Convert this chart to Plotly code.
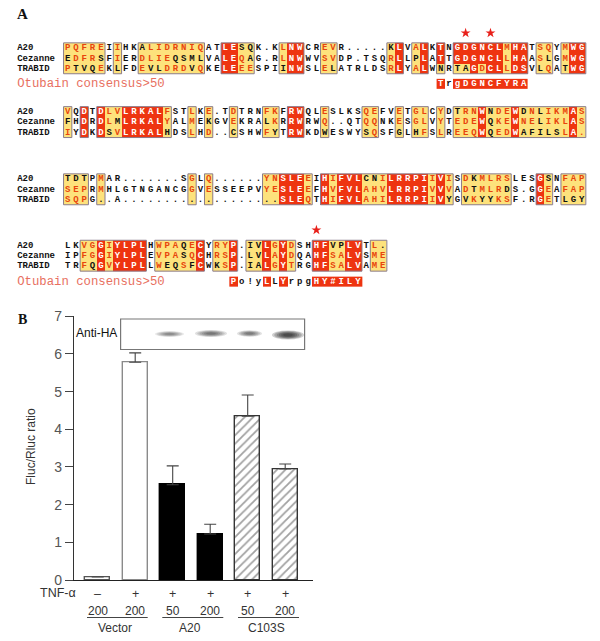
import plotly.graph_objects as go

W, H = 600, 641

# ---------- Panel A: alignment ----------
names = ["A20", "Cezanne", "TRABID"]

block1_seq = ["PQFREIIHKALIDRNIQATLESQK.KLNWCREVR.....KLVALKTNGDGNCLMHATSQYMWG",
              "EDFRSFIERDLIEQSMLVALEQAG.RLNWWVSVDP.TSQRLLPLATTGDGNCLLHAASLGMWG",
              "PTVQEKLFDEVLDRDVQKELEEESPIINWSLELATRLDSRLYALWNRTAGDCLLDSVLQATWG"]
block1_cls = ["yyyyy-y--kyyyyyyy--RRkk---yRR--yy------kR-yR-R-RRRRRRyRR-yy-yRR",
              "kyyyk-y--yyyykkkk--RRyk---yRR--yy------yR-kR-R-RRRRRRyRR-yk-yRR",
              "ykkky-k--ykkyyyky--RRyy---kRR--yk------yR-yR-k-kkRyRRyRR-ky-kRR"]

block2_seq = ["VQDTDLVLRKALFSTLKE.TDTRNFKFRWQLESLKSQEFVETGLCYDTRNWNDEWDNLIKMAS",
              "FHDRDLMLRKALYALMEKGVEKRALKRRWRWQ..QTQQNKESGLVYTEDEWQKEWNELIKLAS",
              "IYDKDSVLRKALHDSLHD..CSHWFYTRWKDWESWYSQSFGLHFSLREEQWQEDWAFILSLA."]
block2_cls = ["y-R-RyyRRRRRy--y-y--y---yy-RR--y----yy--y-yy-y-kyyRkyyRkykyyyRy",
              "k-R-RykRRRRRy--y-k--y---ky-RR--y----yy--y-yy-y-yyyRkyyRyykyyyRy",
              "y-R-RkyRRRRRk--y-y--k---yk-RR--k----ky--k-ky-y-yyyRkyyRkkkkkyRy"]

block3_seq = ["TDTPMAR.......SGLQ......YNSLEEIHIFVLCNILRRPIIVISDKMLRSLESGSNFAP",
              "SEPRMHLGTNGANCGGVESSEEPVYESLEEFHVFVLAHVLRRPIVVVADTMLRDS.GGEAFAP",
              "SQPG..A...................SLEQTHIFVLAHILRRPIIVYGVKYYKSF.RGETLGY"]
block3_cls = ["kkk-y----------y-y------yyRRRy-RyRRRkkyRRRRRyRy-ykyyyy---Rk-yyy",
              "yyy-y----------y-y------yyRRRy-RyRRRyyyRRRRRyRy-ykyyyk---Ry-yyy",
              "yyy-k----------k-k------kkRRRy-RyRRRyyyRRRRRyRk-kykkyy---Ry-kkk"]

block4_seq = ["LKVGGIYLPLHWPAQECYRYP.IVLGYDSHHFVPLVTL.",
              "IPFGGIYLPLEVPASQCHRSP.LVLAYDQAHFSALVSME",
              "TRFQGVYLPLLWEQSFCWKSP.IALGYTRGHFSALVAME"]
block4_cls = ["--yyRyRRRR-yyykyR-yyR-kkRyRy--RRkkRR-yk",
              "--yyRyRRRR-yyykyR-yyR-kkRyRy--RRyyRR-yy",
              "--ykRyRRRR-ykkykR-kyR-kkRyRy--RRyyRR-yy"]

consensus_label = "Otubain consensus>50"
consensus1_seq, consensus1_cls, consensus1_col = "TrgDGNCFYRA", "R-RRRRRRRRR", 45
consensus4_seq, consensus4_cls, consensus4_col = "Po!yLLYrpgHY#ILY", "R---R-R---RRRRRR", 20
star_cols_block1 = [48, 51]
star_cols_block4 = [30]

# ---------- Panel B: bars ----------
tnf_labels = ["–", "+", "+", "+", "+", "+"]
dose_labels = ["200", "200", "50", "200", "50", "200"]
group_labels = ["Vector", "A20", "C103S"]
ratio_values = [0.08, 5.78, 2.53, 1.22, 4.35, 2.95]
ratio_errors = [0, 0.25, 0.5, 0.26, 0.56, 0.13]
blot_band_strength = [0.30, 0.50, 0.45, 1.0]

RED, YEL = "#EE3410", "#FDE27C"
RTXT, BLK = "#E8440C", "#111111"
FRAME = "#8A7C8C"

COL0, COLW = 67.7, 8.29
ROW0, ROWH = 48.0, 10.3


def rpos(py):
    return (py - ROW0) / ROWH


blocks = [(block1_seq, block1_cls, rpos(48)),
          (block2_seq, block2_cls, rpos(111.8)),
          (block3_seq, block3_cls, rpos(179)),
          (block4_seq, block4_cls, rpos(245.4))]

fig = go.Figure()

# bars
bar_x = list(range(len(ratio_values)))
fig.add_trace(go.Bar(
    x=bar_x, y=ratio_values, width=0.667, xaxis="x", yaxis="y", hoverinfo="skip",
    marker=dict(color=["white", "white", "black", "black", "white", "white"],
                line=dict(color=["#555555", "#8A8A8A", "#000000", "#000000", "#333333", "#333333"], width=1.4),
                pattern=dict(shape=["", "", "", "", "/", "/"], fgcolor="#000000", bgcolor="white",
                             size=6, solidity=0.3)),
    error_y=dict(type="data", symmetric=False, array=ratio_errors, arrayminus=[0] * 6,
                 color="#444444", thickness=1.1, width=6, visible=True),
))

CS = [[0, YEL], [0.5, YEL], [0.5, RED], [1, RED]]


def colour(c):
    return {"R": "white", "y": RTXT}.get(c, BLK)


def add_rows(seqs, clss, rows, start_col=0):
    n = len(seqs[0])
    xs = [start_col + i for i in range(n)]
    z = [[{"R": 1, "y": 0, "k": 0}.get(c) for c in cl] for cl in clss]
    fig.add_trace(go.Heatmap(x=xs, y=rows, z=z, colorscale=CS, zmin=0, zmax=1, showscale=False,
                             xaxis="x2", yaxis="y2", hoverinfo="skip", xgap=0, ygap=0))
    for s, cl, r in zip(seqs, clss, rows):
        fig.add_trace(go.Scatter(x=xs, y=[r] * n, text=list(s), mode="text", xaxis="x2", yaxis="y2",
                                 textposition="middle center", hoverinfo="skip", cliponaxis=False,
                                 textfont=dict(family="Liberation Mono", size=9, weight="bold",
                                               color=[colour(c) for c in cl])))


shapes = []
for seqs, clss, r0 in blocks:
    rows = [r0, r0 + 1, r0 + 2]
    add_rows(seqs, clss, rows)
    fig.add_trace(go.Scatter(x=[-6.1] * 3, y=rows, text=names, mode="text", xaxis="x2", yaxis="y2",
                             textposition="middle right", hoverinfo="skip", cliponaxis=False,
                             textfont=dict(family="Liberation Mono", size=9, weight="bold", color="#111111")))
    n = len(seqs[0])
    active = [any(cl[i] != "-" for cl in clss) for i in range(n)]
    i = 0
    while i < n:
        if active[i]:
            j = i
            while j + 1 < n and active[j + 1]:
                j += 1
            shapes.append(dict(type="rect", xref="x2", yref="y2", x0=i - 0.5, x1=j + 0.5,
                               y0=r0 - 0.5, y1=r0 + 2.5, line=dict(color=FRAME, width=1), layer="above"))
            i = j + 1
        else:
            i += 1

cons_rows = [rpos(84), rpos(281.8)]
add_rows([consensus1_seq], [consensus1_cls], [cons_rows[0]], consensus1_col)
add_rows([consensus4_seq], [consensus4_cls], [cons_rows[1]], consensus4_col)
fig.add_trace(go.Scatter(x=[-6.1] * 2, y=cons_rows, text=[consensus_label] * 2, mode="text", xaxis="x2", yaxis="y2",
                         textposition="middle right", hoverinfo="skip", cliponaxis=False,
                         textfont=dict(family="Liberation Mono", size=12.3, color="#E8705F")))

# stars
fig.add_trace(go.Scatter(
    x=star_cols_block1 + star_cols_block4,
    y=[rpos(33)] * len(star_cols_block1) + [rpos(230)] * len(star_cols_block4),
    mode="markers", xaxis="x2", yaxis="y2", hoverinfo="skip",
    marker=dict(symbol="star", size=7.5, color="#E8201A", line=dict(width=0))))


def ax(px):
    return px / W


def ay(py):
    return 1 - py / H


annotations = []


def note(text, px, py, size, color="#222222", family="Liberation Sans", **kw):
    annotations.append(dict(text=text, x=ax(px), y=ay(py), xref="paper", yref="paper", showarrow=False,
                            xanchor="center", yanchor="middle",
                            font=dict(size=size, color=color, family=family), **kw))


note("<b>A</b>", 22, 14, 15, "#111111", "Liberation Serif")
note("<b>B</b>", 22, 319, 14, "#111111", "Liberation Serif")
note("Anti-HA", 97, 332.5, 12, "#111111")
note("TNF-α", 58, 593, 12.5, "#333333")
note("Fluc/Rluc ratio", 31, 447, 12, "#333333", textangle=-90)

for i, (t, d) in enumerate(zip(tnf_labels, dose_labels)):
    annotations.append(dict(text=t, x=i, y=ay(594), xref="x", yref="paper", showarrow=False,
                            xanchor="center", yanchor="middle",
                            font=dict(size=12.5, color="#333333", family="Liberation Sans")))
    annotations.append(dict(text=d, x=i, y=ay(610.5), xref="x", yref="paper", showarrow=False,
                            xanchor="center", yanchor="middle",
                            font=dict(size=12, color="#333333", family="Liberation Sans")))

for (x0, x1), g, cx in zip([(87, 147.7), (162.3, 223.3), (238, 299)], group_labels, [114.7, 190, 266.7]):
    shapes.append(dict(type="line", xref="paper", yref="paper", x0=ax(x0), x1=ax(x1), y0=ay(617.5), y1=ay(617.5),
                       line=dict(color="#444444", width=1)))
    note(g, cx, 627.5, 12, "#333333")

# blot inset
shapes.append(dict(type="rect", xref="paper", yref="paper", x0=ax(120.6), x1=ax(304.6), y0=ay(319), y1=ay(349.5),
                   fillcolor="white", line=dict(color="#777777", width=1.2), layer="above"))
band_geom = [(155, 184, 334), (195, 227, 333.5), (237, 262, 333.5), (272, 304, 335)]
for (x0, x1, yc), s in zip(band_geom, blot_band_strength):
    hh = 2.2 + 2.4 * s
    for k in range(6):
        f = 1 - k * 0.14
        cx, hw = (x0 + x1) / 2, (x1 - x0) / 2 * f
        shapes.append(dict(type="circle", xref="paper", yref="paper",
                           x0=ax(cx - hw), x1=ax(cx + hw), y0=ay(yc - hh * f), y1=ay(yc + hh * f),
                           fillcolor="#111111", opacity=0.06 + 0.14 * s,
                           line=dict(width=0), layer="above"))

PX_PER_BAR = 37.5
BAR0 = 97.7
fig.update_layout(
    width=W, height=H, autosize=False, margin=dict(l=0, r=0, t=0, b=0, pad=0, autoexpand=False),
    paper_bgcolor="white", plot_bgcolor="rgba(0,0,0,0)", showlegend=False,
    bargap=0, shapes=shapes, annotations=annotations,
    xaxis=dict(domain=[ax(74), ax(312.7)], range=[(74 - BAR0) / PX_PER_BAR, (312.7 - BAR0) / PX_PER_BAR],
               showticklabels=False, ticks="", showgrid=False, zeroline=False,
               showline=True, linecolor="#222222", linewidth=1.2, anchor="y"),
    yaxis=dict(domain=[ay(580), ay(316.3)], range=[0, 7], tickvals=list(range(8)), ticks="outside", ticklen=8,
               tickcolor="#444444", tickwidth=1.1, showgrid=False, zeroline=False,
               showline=True, linecolor="#333333", linewidth=1.2,
               tickfont=dict(size=14, color="#555555", family="Liberation Sans"), anchor="x"),
    xaxis2=dict(domain=[0, 1], range=[(0 - COL0) / COLW, (W - COL0) / COLW], visible=False, anchor="y2"),
    yaxis2=dict(domain=[0, 1], range=[(H - ROW0) / ROWH, (0 - ROW0) / ROWH], visible=False, anchor="x2"),
)

fig.write_html("out.html", config={"displayModeBar": False},
               post_script="document.body.style.margin='0';document.body.style.overflow='hidden';")
